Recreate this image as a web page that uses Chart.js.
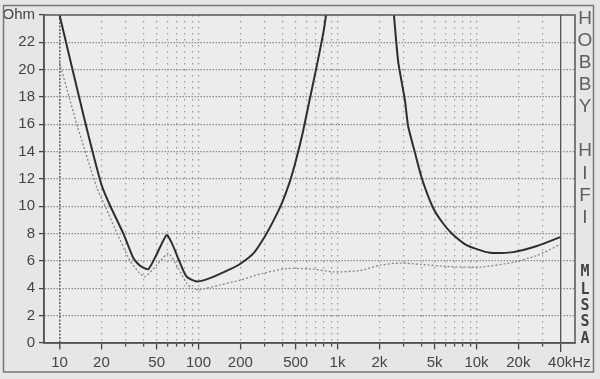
<!DOCTYPE html>
<html>
<head>
<meta charset="utf-8">
<script src="https://cdn.jsdelivr.net/npm/chart.js@4.4.1/dist/chart.umd.min.js"></script>
<style>
  html, body { margin: 0; padding: 0; background: #e8e8e8; }
  #wrap { position: relative; width: 600px; height: 379px; }
</style>
</head>
<body>
<div id="wrap"><canvas id="cvImp" width="600" height="379" role="img" aria-label="Impedanzverlauf"></canvas></div>
<script>
// Impedanzschrieb (MLSSA) — zwei Kurven, log. Frequenzachse 10 Hz … 40 kHz

// --- Daten ---
const solidFreq  = [10, 15, 20, 23, 28.8, 34, 38, 43.5, 50, 59, 65, 70, 82, 97, 110, 135, 169, 200, 250, 300, 344, 393, 450, 500, 565, 630, 700, 800, 1000, 1500, 2000, 2400, 2723, 3060, 3216, 3611, 4055, 4864, 5700, 6665, 8550, 12500, 18300, 27200, 40000];
const solidOhm   = [24.0, 16.5, 11.6, 10.1, 8.0, 6.2, 5.65, 5.4, 6.5, 7.9, 7.2, 6.4, 4.85, 4.5, 4.6, 4.95, 5.4, 5.8, 6.6, 7.8, 8.9, 10.1, 11.7, 13.3, 15.5, 17.8, 20.0, 23.0, 30, 38, 34, 27, 20.7, 17.7, 15.9, 13.9, 12.0, 9.9, 8.8, 8.0, 7.15, 6.6, 6.65, 7.1, 7.75];

const dottedFreq = [10, 13.5, 18.5, 21.3, 26, 32.2, 37, 41.2, 50, 60.6, 71.6, 82.3, 90, 100, 143, 199, 291, 433, 667, 929, 1452, 2022, 2818, 4000, 6135, 10600, 18300, 27200, 40000];
const dottedOhm  = [20.5, 15.8, 11.4, 10.0, 8.0, 6.0, 5.2, 4.85, 5.7, 6.55, 5.45, 4.35, 4.0, 3.9, 4.25, 4.6, 5.1, 5.45, 5.4, 5.2, 5.3, 5.7, 5.85, 5.75, 5.6, 5.55, 5.9, 6.4, 7.2];

const xGrid       = [10, 20, 30, 40, 50, 60, 70, 80, 90, 100, 200, 300, 400, 500, 600, 700, 800, 900, 1000, 2000, 3000, 4000, 5000, 6000, 7000, 8000, 9000, 10000, 20000, 30000, 40000];
const xTickValues = [10, 20, 50, 100, 200, 500, 1000, 2000, 5000, 10000, 20000, 40000];
const xTickLabels = ["10", "20", "50", "100", "200", "500", "1k", "2k", "5k", "10k", "20k", "40k"];
const yTickLabels = ["0", "2", "4", "6", "8", "10", "12", "14", "16", "18", "20", "22", "Ohm"];
const sideTop     = ["H", "O", "B", "B", "Y", "H", "I", "F", "I"];
const sideBottom  = ["M", "L", "S", "S", "A"];

Chart.defaults.font.family = "'Liberation Sans', Arial, sans-serif";
Chart.defaults.color = "#444";

const toPoints = (fx, fy) => fx.map((f, i) => ({ x: f, y: fy[i] }));

const framePlugin = {
  id: "frame",
  beforeDraw(chart) {
    const { ctx, chartArea: a } = chart;
    ctx.save();
    ctx.fillStyle = "#e6e6e6";
    ctx.fillRect(0, 0, chart.width, chart.height);
    ctx.fillStyle = "#ececec";
    ctx.fillRect(a.left, a.top, a.right - a.left, a.bottom - a.top);
    ctx.restore();
  },
  afterDraw(chart) {
    const { ctx, chartArea: a, scales } = chart;
    ctx.save();
    // Innenrahmen + Aussenrahmen
    ctx.strokeStyle = "#555"; ctx.lineWidth = 1.5;
    ctx.strokeRect(a.left, a.top, a.right - a.left, a.bottom - a.top);
    ctx.strokeStyle = "#777"; ctx.lineWidth = 1.5;
    ctx.strokeRect(3.5, 5.5, 590, 366.5);

    // "Hz" hinter dem 40k-Label
    ctx.font = "15px 'Liberation Sans', Arial, sans-serif";
    ctx.fillStyle = "#444";
    ctx.textBaseline = "middle";
    ctx.textAlign = "left";
    const x40 = scales.x.getPixelForValue(40000);
    ctx.fillText("Hz", x40 + ctx.measureText("40k").width / 2, 363);

    // Seitentext
    ctx.textAlign = "center";
    ctx.fillStyle = "#5e5e5e";
    ctx.font = "19px 'Liberation Sans', Arial, sans-serif";
    const topY = [19, 41, 63, 85, 107, 151, 174, 196, 218];
    sideTop.forEach((ch, i) => ctx.fillText(ch, 585, topY[i]));
    ctx.fillStyle = "#444";
    ctx.font = "bold 15px 'DejaVu Sans Mono', monospace";
    const botY = [272, 290, 306, 322, 339];
    sideBottom.forEach((ch, i) => ctx.fillText(ch, 585, botY[i]));
    ctx.restore();
  },
};

new Chart(document.getElementById("cvImp").getContext("2d"), {
  type: "line",
  plugins: [framePlugin],
  data: {
    datasets: [
      { label: "Impedanz", data: toPoints(solidFreq, solidOhm), borderColor: "#2e2e2e", borderWidth: 2, pointRadius: 0, tension: 0.2, fill: false },
      { label: "Impedanz 2", data: toPoints(dottedFreq, dottedOhm), borderColor: "#858585", borderWidth: 1.3, borderDash: [2, 2], pointRadius: 0, tension: 0.2, fill: false },
    ],
  },
  options: {
    responsive: false, animation: false,
    layout: { padding: { left: 0, top: 15, right: 25, bottom: 0 } },
    elements: { line: { capBezierPoints: false } },
    plugins: { legend: { display: false }, tooltip: { enabled: false } },
    scales: {
      x: {
        type: "logarithmic", position: "bottom", min: 7.73, max: 51100,
        afterBuildTicks: (s) => { s.ticks = xGrid.map((v) => ({ value: v })); },
        afterFit: (s) => { s.height = 36; },
        ticks: {
          autoSkip: false, maxRotation: 0, padding: 2, color: "#444", font: { size: 15 },
          callback: (v) => { const i = xTickValues.indexOf(v); return i >= 0 ? xTickLabels[i] : ""; },
        },
        grid: {
          color: (c) => c.tick.value === 40000 ? "#555" : c.tick.value === 10 ? "#666" : "#9a9a9a",
          lineWidth: (c) => c.tick.value === 40000 ? 1.3 : c.tick.value === 10 ? 1.6 : 1.2,
          tickLength: 9, tickColor: "#444", tickWidth: 1.3,
          tickBorderDash: (c) => c.tick.value === 40000 ? [9, 20] : xTickValues.includes(c.tick.value) ? [6, 20] : [3, 20],
        },
        border: {
          display: true, color: "#444", width: 1.5,
          dash: (c) => c.tick && c.tick.value === 40000 ? [] : c.tick && c.tick.value === 10 ? [2, 1.5] : [1.5, 4.5],
        },
      },
      y: {
        min: 0, max: 24,
        afterBuildTicks: (s) => { s.ticks = yTickLabels.map((_, i) => ({ value: i * 2 })); },
        afterFit: (s) => { s.width = 44; },
        ticks: {
          padding: 4, color: "#444", font: { size: 15 },
          callback: (v) => yTickLabels[v / 2],
        },
        grid: {
          color: (c) => c.tick.value === 0 || c.tick.value === 24 ? "rgba(0,0,0,0)" : "#8a8a8a",
          lineWidth: 1.2, tickLength: 5, tickColor: "#444", tickWidth: 1.3,
        },
        border: { display: true, color: "#444", width: 1.5, dash: [1.5, 1.5] },
      },
    },
  },
});
</script>
</body>
</html>
